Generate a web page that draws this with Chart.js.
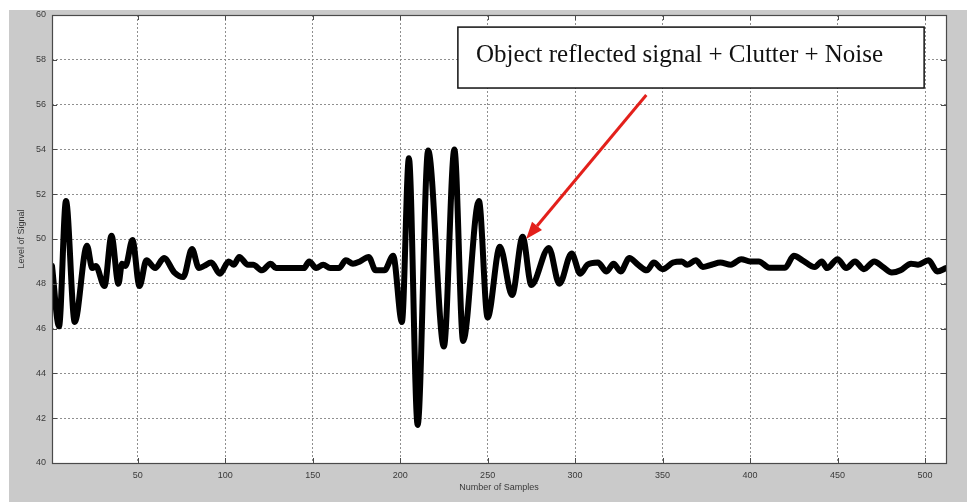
<!DOCTYPE html>
<html>
<head>
<meta charset="utf-8">
<script src="https://cdn.jsdelivr.net/npm/chart.js@4.4.1/dist/chart.umd.min.js"></script>
<style>
  html, body { margin: 0; padding: 0; background: #fff; }
  #wrap { width: 967px; height: 502px; }
</style>
</head>
<body>
<div id="wrap"><canvas id="signalChart"></canvas></div>
<script>
// Sample number / signal level (peaks, troughs and knees)
const sampleIdx = [
  1, 5, 9, 14, 21, 24, 26, 31, 35, 39, 41, 43, 47, 51, 55, 60, 65, 71, 76, 81,
  85, 88, 92, 97, 102, 105, 108, 113, 116, 121, 126, 129, 145, 148, 152, 156, 160, 165, 169, 173,
  177, 182, 186, 191, 196, 201, 205, 210, 216, 225, 231, 236, 245, 250, 257, 264, 270, 275, 285, 291,
  298, 303, 307, 313, 318, 322, 326, 331, 336, 341, 345, 350, 356, 361, 364, 369, 373, 378, 383, 389,
  395, 400, 405, 411, 420, 425, 430, 437, 441, 444, 450, 455, 460, 465, 471, 476, 481, 486, 492, 496,
  502, 507, 512
];
const signalLevel = [
  48.8, 46.1, 51.7, 46.3, 49.7, 48.7, 48.8, 47.9, 50.15, 48.0, 48.9, 48.8, 49.95, 47.9, 49.05, 48.7, 49.15, 48.5, 48.3, 49.55,
  48.7, 48.8, 48.95, 48.45, 49.0, 48.85, 49.2, 48.85, 48.85, 48.6, 48.9, 48.7, 48.7, 49.0, 48.7, 48.85, 48.7, 48.7, 49.05, 48.9,
  49.0, 49.2, 48.6, 48.6, 49.25, 46.3, 53.6, 41.7, 53.95, 45.2, 54.0, 45.45, 51.7, 46.5, 49.65, 47.5, 50.1, 47.95, 49.6, 48.0,
  49.35, 48.45, 48.85, 48.95, 48.55, 48.9, 48.55, 49.15, 48.85, 48.6, 48.95, 48.65, 48.95, 49.0, 48.85, 49.05, 48.75, 48.85, 48.95, 48.85,
  49.1, 49.0, 49.0, 48.72, 48.72, 49.25, 49.05, 48.75, 49.0, 48.7, 49.1, 48.7, 49.0, 48.65, 49.0, 48.75, 48.5, 48.6, 48.9, 48.85,
  49.05, 48.55, 48.7
];

const X_MIN = 1, X_MAX = 512, X_STEP = 50;
const Y_MIN = 40, Y_MAX = 60, Y_STEP = 2;

const NOTE_TEXT = 'Object reflected signal + Clutter + Noise';
// box corners and arrow in data units (sample, level)
const NOTE_BOX = [233, 59.46, 499.5, 56.74];
const ARROW_FROM = [340.7, 56.43];
const ARROW_TO = [272, 50.0];

// Grey figure backdrop, white axes area, box frame and inward ticks like MATLAB
const figureStyle = {
  id: 'figureStyle',
  beforeDraw(chart) {
    const { ctx, chartArea: a } = chart;
    ctx.save();
    ctx.fillStyle = '#ffffff';
    ctx.fillRect(0, 0, chart.width, chart.height);
    ctx.fillStyle = '#cacaca';
    ctx.fillRect(9, 10, chart.width - 9, chart.height - 10);
    ctx.fillStyle = '#ffffff';
    ctx.fillRect(a.left, a.top, a.right - a.left, a.bottom - a.top);
    ctx.restore();
  },
  afterDraw(chart) {
    const { ctx, chartArea: a, scales } = chart;
    ctx.save();
    ctx.strokeStyle = '#4a4a4a';
    ctx.lineWidth = 1;
    ctx.beginPath();
    scales.y.ticks.forEach(t => {
      const py = Math.round(scales.y.getPixelForValue(t.value)) + 0.5;
      ctx.moveTo(a.left, py); ctx.lineTo(a.left + 5, py);
      ctx.moveTo(a.right, py); ctx.lineTo(a.right - 5, py);
    });
    scales.x.ticks.forEach(t => {
      const px = Math.round(scales.x.getPixelForValue(t.value)) + 0.5;
      ctx.moveTo(px, a.bottom); ctx.lineTo(px, a.bottom - 5);
      ctx.moveTo(px, a.top); ctx.lineTo(px, a.top + 5);
    });
    ctx.stroke();
    ctx.lineWidth = 1.2;
    ctx.strokeRect(a.left + 0.5, a.top + 0.5, a.right - a.left, a.bottom - a.top);

    // annotation box
    const x = scales.x, y = scales.y;
    const bx0 = x.getPixelForValue(NOTE_BOX[0]), by0 = y.getPixelForValue(NOTE_BOX[1]);
    const bx1 = x.getPixelForValue(NOTE_BOX[2]), by1 = y.getPixelForValue(NOTE_BOX[3]);
    ctx.fillStyle = '#ffffff';
    ctx.fillRect(bx0, by0, bx1 - bx0, by1 - by0);
    ctx.strokeStyle = '#111';
    ctx.lineWidth = 1.5;
    ctx.strokeRect(bx0, by0, bx1 - bx0, by1 - by0);
    ctx.fillStyle = '#111';
    ctx.font = '25px "Liberation Serif", "Times New Roman", serif';
    ctx.textBaseline = 'middle';
    ctx.fillText(NOTE_TEXT, bx0 + 18, (by0 + by1) / 2 - 2);

    // red arrow
    const ax0 = x.getPixelForValue(ARROW_FROM[0]), ay0 = y.getPixelForValue(ARROW_FROM[1]);
    const ax1 = x.getPixelForValue(ARROW_TO[0]), ay1 = y.getPixelForValue(ARROW_TO[1]);
    const ang = Math.atan2(ay1 - ay0, ax1 - ax0);
    const head = 17, half = 6.5;
    const hx = ax1 - head * Math.cos(ang), hy = ay1 - head * Math.sin(ang);
    ctx.strokeStyle = '#e3201b';
    ctx.fillStyle = '#e3201b';
    ctx.lineWidth = 3;
    ctx.beginPath();
    ctx.moveTo(ax0, ay0);
    ctx.lineTo(hx, hy);
    ctx.stroke();
    ctx.beginPath();
    ctx.moveTo(ax1, ay1);
    ctx.lineTo(hx + half * Math.sin(ang), hy - half * Math.cos(ang));
    ctx.lineTo(hx - half * Math.sin(ang), hy + half * Math.cos(ang));
    ctx.closePath();
    ctx.fill();
    ctx.restore();
  }
};

const tickFont = { family: '"Liberation Sans", Arial, sans-serif', size: 9 };
const gridStyle = {
  color: '#8f8f8f',
  lineWidth: 1,
  drawTicks: false
};

new Chart(document.getElementById('signalChart'), {
  type: 'line',
  data: {
    datasets: [{
      label: 'Signal',
      data: sampleIdx.map((s, i) => ({ x: s, y: signalLevel[i] })),
      borderColor: '#000000',
      borderWidth: 6,
      borderJoinStyle: 'round',
      borderCapStyle: 'round',
      cubicInterpolationMode: 'monotone',
      pointRadius: 0,
      fill: false
    }]
  },
  options: {
    responsive: true,
    maintainAspectRatio: false,
    animation: false,
    layout: { padding: { top: 15, right: 21, left: 0, bottom: 0 } },
    plugins: {
      legend: { display: false },
      tooltip: { enabled: false }
    },
    scales: {
      x: {
        type: 'linear',
        min: X_MIN,
        max: X_MAX,
        grid: gridStyle,
        border: { display: false, dash: [2, 2] },
        ticks: {
          stepSize: X_STEP,
          includeBounds: false,
          maxRotation: 0,
          padding: 7,
          color: '#3a3a3a',
          font: tickFont
        },
        title: {
          display: true,
          text: 'Number of Samples',
          color: '#3a3a3a',
          font: tickFont,
          padding: { top: 0, bottom: 9 }
        },
        afterFit(scale) { scale.height = 39; }
      },
      y: {
        min: Y_MIN,
        max: Y_MAX,
        grid: gridStyle,
        border: { display: false, dash: [2, 2] },
        ticks: {
          stepSize: Y_STEP,
          padding: 6,
          color: '#3a3a3a',
          font: tickFont
        },
        title: {
          display: true,
          text: 'Level of Signal',
          color: '#3a3a3a',
          font: tickFont,
          padding: { top: 16, bottom: 0 }
        },
        afterFit(scale) { scale.width = 52; }
      }
    }
  },
  plugins: [figureStyle]
});
</script>
</body>
</html>
